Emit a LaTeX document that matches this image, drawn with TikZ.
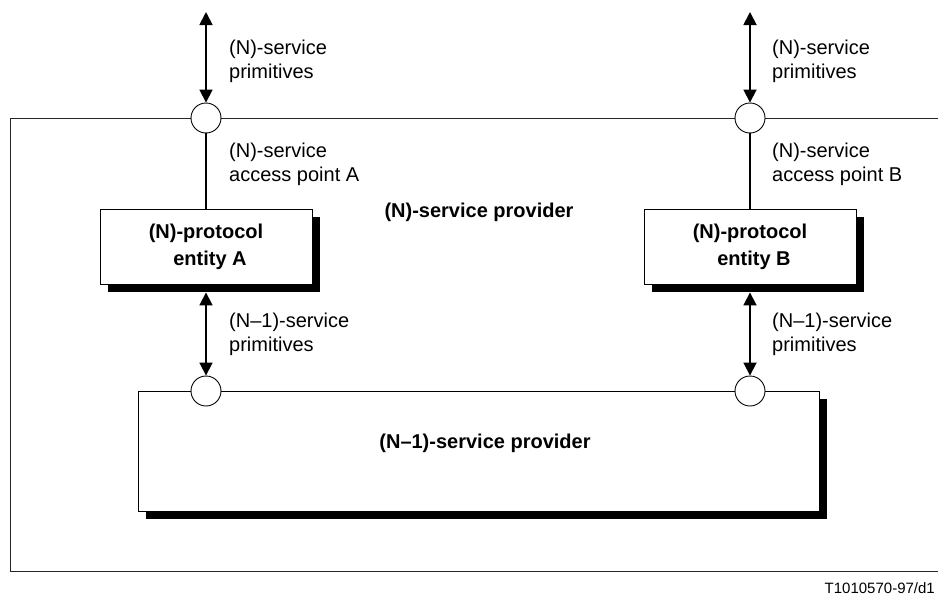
\documentclass[tikz,border=0pt]{standalone}
\usepackage{fontspec}
\setmainfont{Liberation Sans}
\usetikzlibrary{arrows.meta,shadows}
\begin{document}
\begin{tikzpicture}[x=1pt,y=-1pt,
  sap/.style={circle,draw,fill=white,minimum size=30pt,inner sep=0pt,line width=0.9pt},
  boxshadow/.style={drop shadow={shadow xshift=8pt,shadow yshift=-8pt,fill=black,opacity=1}},
  entity/.style={rectangle,draw,fill=white,line width=0.9pt,minimum width=212pt,minimum height=75pt,align=center,font=\bfseries\fontsize{20}{27}\selectfont,boxshadow},
  lbl/.style={anchor=west,align=left,font=\fontsize{20}{24}\selectfont,inner sep=0pt},
  bold/.style={font=\bfseries\fontsize{20}{24}\selectfont,inner sep=0pt},
  prim/.style={{Triangle[width=13pt,length=13pt]}-{Triangle[width=13pt,length=13pt]},line width=1.8pt},
  frame/.style={line width=0.9pt,draw=black!85},
  conn/.style={line width=1.3pt}]
\useasboundingbox (0,0) rectangle (938,597);
% outer (N)-service provider frame
\coordinate (fTR) at (938,118);
\coordinate (fTL) at (10,118);
\coordinate (fBL) at (10,571);
\coordinate (fBR) at (938,571);
\draw[frame] (fTR) -- (fTL) -- (fBL) -- (fBR);
\node[bold] (nprov) at (479,212) {(N)-service provider};
% (N-1)-service provider
\node[rectangle,draw,fill=white,line width=0.9pt,minimum width=681pt,minimum height=120pt,boxshadow] (lowprov) at (478.5,451) {};
\node[bold] (lowtxt) at (485,443) {(N–1)-service provider};
% entities
\node[entity] (entA) at (206,246.5) {(N)-protocol\\\hspace*{8pt}entity A};
\node[entity] (entB) at (750,246.5) {(N)-protocol\\\hspace*{8pt}entity B};
% service access points
\node[sap] (sapA) at (206,118) {};
\node[sap] (sapB) at (750,118) {};
\node[sap] (lowA) at (206,391) {};
\node[sap] (lowB) at (750,391) {};
% connectors
\coordinate (topA) at (206,12);
\coordinate (topB) at (750,12);
\draw[prim] (topA) -- (sapA.north);
\draw[prim] (topB) -- (sapB.north);
\draw[conn] (sapA) -- (entA);
\draw[conn] (sapB) -- (entB);
\draw[prim] ([yshift=-8pt]entA.south) -- (lowA.north);
\draw[prim] ([yshift=-8pt]entB.south) -- (lowB.north);
% labels
\node[lbl] (lpA) at (229,61) {(N)-service\\primitives};
\node[lbl] (lpB) at (772,61) {(N)-service\\primitives};
\node[lbl] (apA) at (229,164) {(N)-service\\access point A};
\node[lbl] (apB) at (772,164) {(N)-service\\access point B};
\node[lbl] (lp1A) at (229,334) {(N–1)-service\\primitives};
\node[lbl] (lp1B) at (772,334) {(N–1)-service\\primitives};
\node[anchor=east,inner sep=0pt,font=\fontsize{15}{18}\selectfont] (figid) at (935,588) {T1010570-97/d1};
\end{tikzpicture}
\end{document}
